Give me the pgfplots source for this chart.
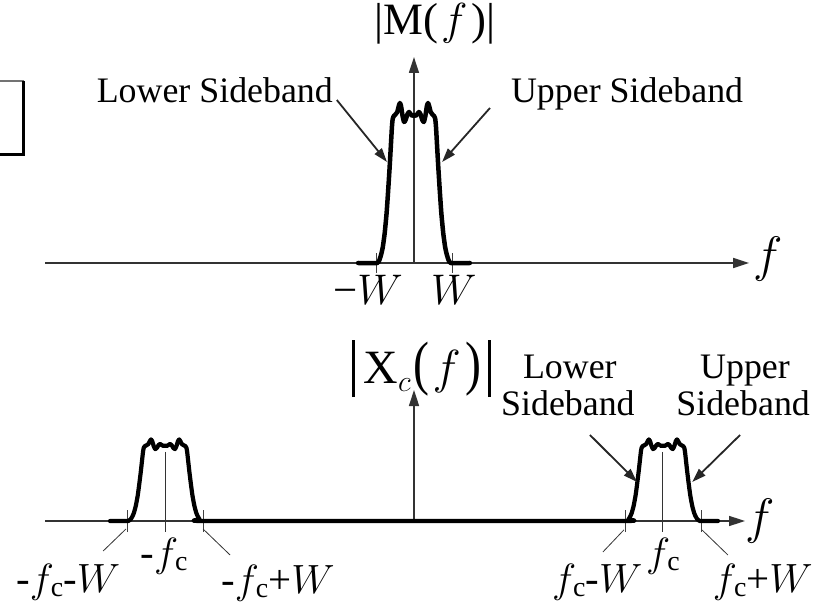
\RequirePackage{fix-cm}
\documentclass[border=0pt]{standalone}
\usepackage{fontspec}
\setmainfont{Liberation Serif}
\usepackage{graphicx}
\usepackage{pgfplots}
\pgfplotsset{compat=1.18}
\usetikzlibrary{arrows.meta}

% text sizes used in the figure
\newcommand\lbl{\fontsize{36}{40}\selectfont}
\newcommand\mth{\fontsize{41}{44}\selectfont}
\newcommand\fsub[1]{\raisebox{-4.5bp}{\fontsize{28}{28}\selectfont #1}}
\newcommand\fv{\ensuremath{f}}
\newcommand\Wv{\ensuremath{W}}
\newcommand\fc{\fv\kern-3bp\fsub{c}}

\pgfplotsset{
  spec/.style={
    axis lines=middle, scale only axis, clip=false,
    ymin=0, ytick=\empty, xticklabels={},
    axis line style={line width=1.5bp, black!80, -{Triangle[length=16bp,width=10bp]}},
    tick style={line width=0.8bp, black!75},
    major tick length=20bp, tick align=center,
  },
}
\tikzset{
  trace/.style={black, line width=4.5bp, line join=round, line cap=round, smooth, tension=0.3},
  pointer/.style={line width=1.8bp, black!85, -{Triangle[length=14bp,width=9bp]}},
  leader/.style={line width=0.8bp, black!80},
}

\begin{document}
\begin{tikzpicture}
\useasboundingbox (0,0) rectangle (838bp,603bp);

% cropped bracket at the left edge
\draw[line width=1.5bp, black!55] (0,522bp) -- (24bp,522bp);
\draw[line width=2.8bp, black] (23.5bp,522bp) -- (23.5bp,448.5bp);
\draw[line width=3.2bp, black] (0,448.5bp) -- (25bp,448.5bp);

% ---------------- baseband spectrum |M(f)| ----------------
\begin{axis}[spec, at={(45bp,340bp)}, anchor=south west,
  width=704.1bp, height=206bp, xmin=-9.71, xmax=8.82, ymax=206,
  xtick={-1,1}]
\addplot[trace] coordinates {
 (-1.47,0) (-0.97,0) (-0.91,3) (-0.86,9) (-0.82,16) (-0.77,30) (-0.72,50)
 (-0.68,72) (-0.64,96) (-0.61,116) (-0.58,136) (-0.56,144) (-0.53,147)
 (-0.50,148) (-0.44,151) (-0.40,157) (-0.37,160) (-0.34,157) (-0.30,147)
 (-0.26,141) (-0.22,143) (-0.17,149) (-0.13,151) (-0.09,149) (-0.04,147)
 (0,148) (0.04,147) (0.09,149) (0.13,151) (0.17,149) (0.22,143) (0.26,141)
 (0.30,147) (0.34,157) (0.37,160) (0.40,157) (0.44,151) (0.50,148)
 (0.53,147) (0.56,144) (0.58,136) (0.61,116) (0.64,96) (0.68,72) (0.72,50)
 (0.77,30) (0.82,16) (0.86,9) (0.91,3) (0.97,0) (1.47,0)
};
\node[anchor=base] at (axis cs:0.55,228) {\fontsize{45}{48}\selectfont |M(\hspace{3bp}\fv\hspace{4bp})|};
\node[anchor=base] at (axis cs:9.32,-9) {\fontsize{50}{52}\selectfont\fv};
\node[anchor=base] at (axis cs:-1.21,-42) {\fontsize{43}{46}\selectfont −\Wv};
\node[anchor=base] at (axis cs:1.05,-42) {\fontsize{43}{46}\selectfont \Wv};
\node[anchor=base] at (axis cs:-5.24,160) {\lbl Lower Sideband};
\node[anchor=base] at (axis cs:5.61,160) {\lbl Upper Sideband};
\draw[pointer] (axis cs:-2.03,163) -- (axis cs:-0.71,101);
\draw[pointer] (axis cs:2.0,155) -- (axis cs:0.74,101);
\end{axis}

% ---------------- modulated spectrum |Xc(f)| ----------------
\begin{axis}[spec, at={(45bp,82bp)}, anchor=south west,
  width=700bp, height=131bp, xmin=-9.71, xmax=8.71, ymax=131,
  xtick={-7.55,-5.55,5.55,7.55}, major tick length=22bp]
% centre lines at -fc and fc
\addplot[leader, line width=0.9bp] coordinates {(-6.55,69) (-6.55,-11)};
\addplot[leader, line width=0.9bp] coordinates {(6.55,69) (6.55,-11)};
\addplot[trace, line width=4.2bp] coordinates {
 (-8.0,0) (-7.52,0) (-7.46,1.5) (-7.41,4.6) (-7.37,8.2) (-7.32,15.3)
 (-7.27,25.5) (-7.23,36.7) (-7.19,49) (-7.16,59.2) (-7.13,69.4) (-7.11,73.4)
 (-7.08,75) (-7.05,75.5) (-6.99,77) (-6.95,80) (-6.92,81.6) (-6.89,80)
 (-6.85,75) (-6.81,71.9) (-6.77,72.9) (-6.72,76) (-6.68,77) (-6.64,76)
 (-6.59,75) (-6.55,75.5) (-6.51,75) (-6.46,76) (-6.42,77) (-6.38,76)
 (-6.33,72.9) (-6.29,71.9) (-6.25,75) (-6.21,80) (-6.18,81.6) (-6.15,80)
 (-6.11,77) (-6.05,75.5) (-6.02,75) (-5.99,73.4) (-5.97,69.4) (-5.94,59.2)
 (-5.91,49) (-5.87,36.7) (-5.83,25.5) (-5.78,15.3) (-5.73,8.2) (-5.69,4.6)
 (-5.64,1.5) (-5.58,0) (0,0)
 (5.58,0) (5.64,1.5) (5.69,4.6) (5.73,8.2) (5.78,15.3) (5.83,25.5)
 (5.87,36.7) (5.91,49) (5.94,59.2) (5.97,69.4) (5.99,73.4) (6.02,75)
 (6.05,75.5) (6.11,77) (6.15,80) (6.18,81.6) (6.21,80) (6.25,75) (6.29,71.9)
 (6.33,72.9) (6.38,76) (6.42,77) (6.46,76) (6.51,75) (6.55,75.5) (6.59,75)
 (6.64,76) (6.68,77) (6.72,76) (6.77,72.9) (6.81,71.9) (6.85,75) (6.89,80)
 (6.92,81.6) (6.95,80) (6.99,77) (7.05,75.5) (7.08,75) (7.11,73.4)
 (7.13,69.4) (7.16,59.2) (7.19,49) (7.23,36.7) (7.27,25.5) (7.32,15.3)
 (7.37,8.2) (7.41,4.6) (7.46,1.5) (7.52,0) (8.0,0)
};
\node[anchor=base west, inner sep=0pt] at (axis cs:-1.63,138) {\fontsize{48}{50}\selectfont
  \rule[-14bp]{3.2bp}{57bp}\hspace{8bp}X\raisebox{-8bp}{\fontsize{30}{30}\selectfont$c$}\hspace{3bp}%
  \scalebox{1}[1.25]{(}\hspace{3bp}\fv\hspace{5bp}\scalebox{1}[1.25]{)}\hspace{6bp}\rule[-14bp]{3.2bp}{57bp}};
\node[anchor=base] at (axis cs:9.1,-12) {\fontsize{50}{52}\selectfont\fv};
\node[anchor=base] at (axis cs:4.1,143) {\lbl Lower};
\node[anchor=base] at (axis cs:4.05,106) {\lbl Sideband};
\node[anchor=base] at (axis cs:8.71,143) {\lbl Upper};
\node[anchor=base] at (axis cs:8.66,106) {\lbl Sideband};
\draw[pointer] (axis cs:4.63,86) -- (axis cs:5.87,39);
\draw[pointer] (axis cs:8.58,86) -- (axis cs:7.32,39);
% tick labels with leader lines
\draw[leader] (axis cs:-7.58,-8) -- (axis cs:-8.18,-30);
\draw[leader] (axis cs:-5.55,-8) -- (axis cs:-4.84,-34);
\draw[leader] (axis cs:5.52,-9) -- (axis cs:4.97,-31);
\draw[leader] (axis cs:7.58,-9) -- (axis cs:8.26,-34);
\node[anchor=base] at (axis cs:-9.1,-71) {\mth -\fc-\Wv};
\node[anchor=base] at (axis cs:-6.58,-45) {\mth -\fc};
\node[anchor=base] at (axis cs:-3.58,-72) {\mth -\fc+\Wv};
\node[anchor=base] at (axis cs:4.82,-71) {\mth \fc-\Wv};
\node[anchor=base] at (axis cs:6.55,-45) {\mth \fc};
\node[anchor=base] at (axis cs:9.18,-71) {\mth \fc+\Wv};
\end{axis}
\end{tikzpicture}
\end{document}
